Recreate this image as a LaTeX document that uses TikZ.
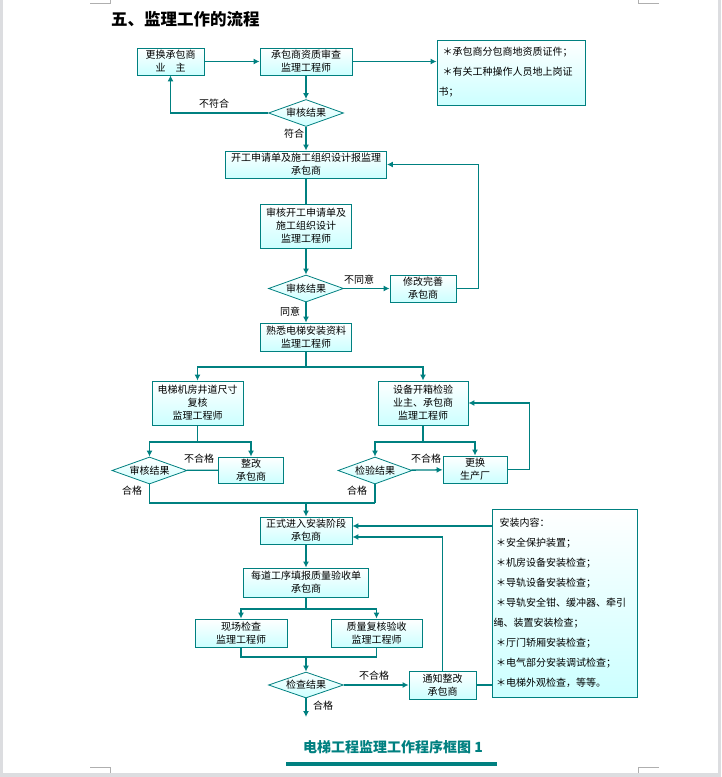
\documentclass[tikz,border=0pt]{standalone}
\usepackage{fontspec}
\setmainfont{Noto Sans CJK SC}
\usepackage{tikz}
\usetikzlibrary{arrows.meta}
\usetikzlibrary{shapes.geometric}
\definecolor{flowteal}{RGB}{0,128,128}
\definecolor{flowaqua}{RGB}{204,255,255}
\definecolor{pagegray}{RGB}{220,221,224}
\definecolor{markgray}{RGB}{175,175,175}

\begin{document}
\begin{tikzpicture}[x=1pt,y=-1pt,
	>={Latex[length=6pt,width=6pt]},
	box/.style={draw=flowteal,line width=0.8pt,top color=white,bottom color=flowaqua,
		inner sep=0pt,align=center,font=\fontsize{10pt}{13pt}\selectfont},
	dec/.style={diamond,aspect=2.8,draw=flowteal,line width=0.8pt,top color=white,
		bottom color=flowaqua,inner sep=0pt,minimum width=75pt,minimum height=27pt,
		font=\fontsize{10pt}{12pt}\selectfont},
	note/.style={draw=flowteal,line width=0.8pt,top color=white,bottom color=flowaqua,
		inner xsep=1.5pt,inner ysep=0pt,align=left,font=\fontsize{10pt}{20pt}\selectfont},
	lbl/.style={inner sep=0pt,font=\fontsize{10pt}{12pt}\selectfont},
	flow/.style={draw=flowteal,line width=1.3pt}]
	% page
	\useasboundingbox (0,0) rectangle (721,777);
	\fill[pagegray] (0,0) rectangle (721,777);
	\fill[white] (3,0) rectangle (718,773);
	\foreach \cx/\ex in {110/90,638/659}{
		\draw[markgray,line width=0.7pt] (\ex,3) -- (\cx,3) -- (\cx,0);
		\draw[markgray,line width=0.7pt] (\ex,767) -- (\cx,767) -- (\cx,773);
	}
	\node[anchor=west,inner sep=0pt,font=\fontsize{16.5pt}{18pt}\selectfont\bfseries] (title) at (111,19.5) {五、监理工作的流程};

	% qualification
	\node[box,minimum width=67pt,minimum height=27pt] (change) at (170.5,61.5) {更换承包商\\业　主};
	\node[box,minimum width=92pt,minimum height=27pt] (qual) at (306,61.5) {承包商资质审查\\监理工程师};
	\node[note,text width=145pt,minimum height=65pt] (papers) at (511,72.5)
		{\hspace{4pt}＊承包商分包商地资质证件；\\\hspace{4pt}＊有关工种操作人员地上岗证\\书；};
	\node[dec] (qcheck) at (306,113) {审核结果};
	\draw[flow,->] (change) -- (qual);
	\draw[flow,->] (qual.east) -- (papers.west |- qual.east);
	\draw[flow,->] (qual) -- (qcheck);
	\draw[flow,->] (qcheck.west) -| (change.south);
	\node[lbl] (nofit) at (214,104) {不符合};
	\node[lbl] (fit) at (294,134) {符合};

	% start application
	\node[box,minimum width=161pt,minimum height=27pt] (apply) at (306,164.5) {开工申请单及施工组织设计报监理\\承包商};
	\node[box,minimum width=91pt,minimum height=44pt] (review) at (306,226) {审核开工申请单及\\施工组织设计\\监理工程师};
	\node[dec] (rcheck) at (306,288.5) {审核结果};
	\node[box,minimum width=66pt,minimum height=27pt] (revise) at (423,288.5) {修改完善\\承包商};
	\node[box,minimum width=91pt,minimum height=28pt] (study) at (306,337) {熟悉电梯安装资料\\监理工程师};
	\draw[flow,->] (qcheck) -- (apply);
	\draw[flow] (apply) -- (review);
	\draw[flow,->] (review) -- (rcheck);
	\draw[flow,->] (rcheck) -- (revise);
	\draw[flow,->] (revise.east) -- ++(22,0) |- (apply.east);
	\draw[flow,->] (rcheck) -- (study);
	\node[lbl] (disagree) at (359,280) {不同意};
	\node[lbl] (agree) at (290,312) {同意};

	% shaft and equipment
	\coordinate (split1) at (306,367);
	\node[box,minimum width=91pt,minimum height=44pt] (shaft) at (197.5,403) {电梯机房井道尺寸\\复核\\监理工程师};
	\node[box,minimum width=90pt,minimum height=44pt] (unpack) at (423,403) {设备开箱检验\\业主、承包商\\监理工程师};
	\draw[flow] (study) -- (split1);
	\draw[flow,->] (split1) -| (shaft.north);
	\draw[flow,->] (split1) -| (unpack.north);

	\coordinate (split2) at (197.5,442);
	\coordinate (split3) at (423,442);
	\node[dec,minimum width=75pt] (scheck) at (149.5,470.5) {审核结果};
	\node[box,minimum width=65pt,minimum height=26pt] (rectify) at (251,470) {整改\\承包商};
	\node[dec,minimum width=74pt] (ucheck) at (375,470.5) {检验结果};
	\node[box,minimum width=64pt,minimum height=27pt] (maker) at (475,469.5) {更换\\生产厂};
	\draw[flow] (shaft) -- (split2);
	\draw[flow,->] (split2) -| (scheck.north);
	\draw[flow,->] (split2) -| (rectify.north);
	\draw[flow] (scheck) -- (rectify);
	\draw[flow] (unpack) -- (split3);
	\draw[flow,->] (split3) -| (ucheck.north);
	\draw[flow,->] (split3) -| (maker.north);
	\draw[flow,->] (ucheck) -- (maker);
	\draw[flow,->] (maker.east) -- ++(22,0) |- (unpack.east);
	\node[lbl] (sfail) at (199,459) {不合格};
	\node[lbl] (spass) at (132,491) {合格};
	\node[lbl] (ufail) at (426,459) {不合格};
	\node[lbl] (upass) at (357,491) {合格};

	% installation
	\coordinate (join1) at (375,503);
	\coordinate (join2) at (306,503);
	\node[box,minimum width=92pt,minimum height=27pt] (install) at (306,530.5) {正式进入安装阶段\\承包商};
	\node[box,minimum width=125pt,minimum height=29pt] (form) at (306,582.5) {每道工序填报质量验收单\\承包商};
	\coordinate (split4) at (306,609);
	\node[box,minimum width=92pt,minimum height=28pt] (site) at (241,633) {现场检查\\监理工程师};
	\node[box,minimum width=91pt,minimum height=28pt] (recheck) at (376.5,633) {质量复核验收\\监理工程师};
	\coordinate (join3) at (306,657);
	\node[dec,minimum height=26pt] (icheck) at (306,685) {检查结果};
	\node[box,minimum width=67pt,minimum height=28pt] (notice) at (442.5,685) {通知整改\\承包商};
	\coordinate (done) at (306,717);
	\node[note,text width=142pt,minimum height=188pt] (items) at (564.5,603)
		{\hspace{6pt}安装内容：\\\hspace{2.5pt}＊安全保护装置；\\\hspace{2.5pt}＊机房设备安装检查；\\
		\hspace{2.5pt}＊导轨设备安装检查；\\\hspace{2.5pt}＊导轨安全钳、缓冲器、牵引\\绳、装置安装检查；\\
		\hspace{2.5pt}＊厅门轿厢安装检查；\\\hspace{2.5pt}＊电气部分安装调试检查；\\\hspace{2.5pt}＊电梯外观检查，等等。};
	\draw[flow] (scheck.south) |- (join1);
	\draw[flow] (ucheck) -- (join1);
	\draw[flow,->] (join2) -- (install);
	\draw[flow,->] (install) -- (form);
	\draw[flow] (form) -- (split4);
	\draw[flow,->] (split4) -| (site.north);
	\draw[flow,->] (split4) -| (recheck.north);
	\draw[flow] (site.south) |- (join3);
	\draw[flow] (recheck.south) |- (join3);
	\draw[flow,->] (join3) -- (icheck);
	\draw[flow,->] (icheck) -- (notice);
	\draw[flow,->] (icheck) -- (done);
	\draw[flow,->] (notice.north) |- (install.east |- 0,537);
	\draw[flow,->] (items.west |- 0,526) -- (install.east |- 0,526);
	\draw[flow] (notice.east) -- (items.west |- notice.east);
	\node[lbl] (ifail) at (374,676) {不合格};
	\node[lbl] (ipass) at (323,706) {合格};

	\node[inner sep=0pt,text=flowteal,font=\fontsize{14pt}{16pt}\selectfont\bfseries] (caption) at (393,747) {电梯工程监理工作程序框图 1};
	\fill[flowteal] (286,762) rectangle (497,766);
\end{tikzpicture}
\end{document}
